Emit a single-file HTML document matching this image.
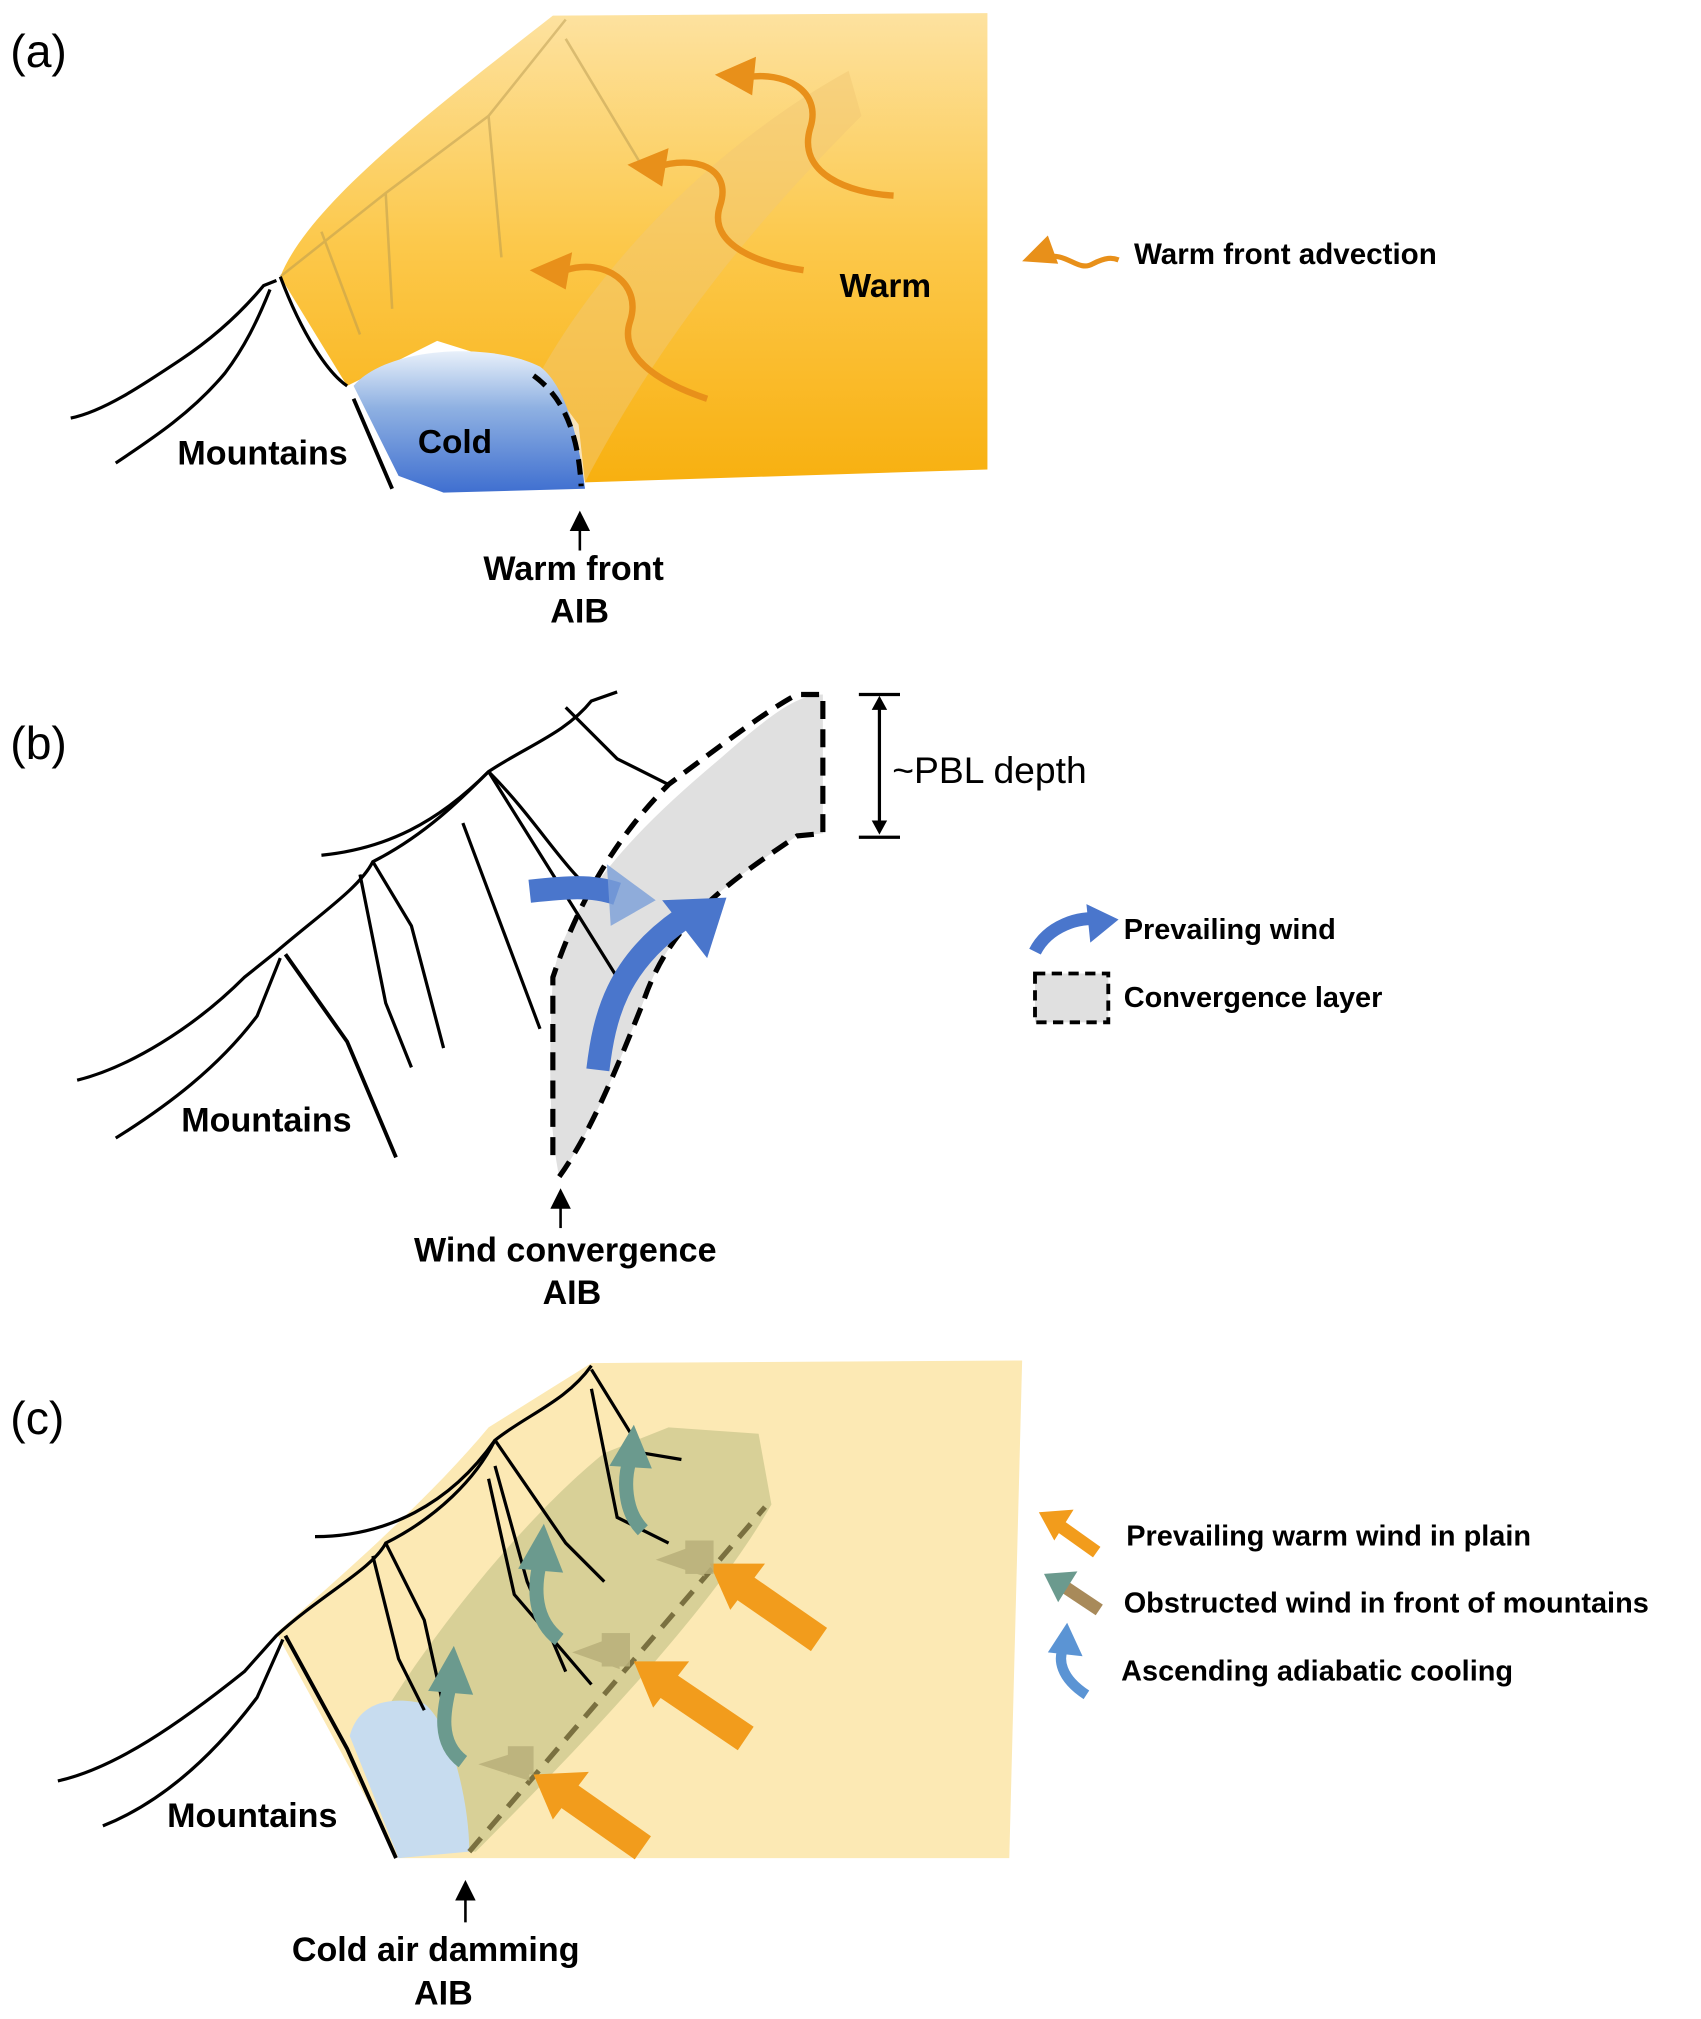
<!DOCTYPE html>
<html><head><meta charset="utf-8"><style>
html,body{margin:0;padding:0;background:#fff}
svg{display:block}
text{font-family:"Liberation Sans",Arial,sans-serif;font-weight:bold;fill:#000}
</style></head><body>
<svg width="1701" height="2019" viewBox="0 0 1323 1570" xmlns="http://www.w3.org/2000/svg">
<defs>
<linearGradient id="og" x1="0" y1="0" x2="0" y2="1"><stop offset="0" stop-color="#fde2a0"/><stop offset="0.5" stop-color="#fcc84a"/><stop offset="1" stop-color="#f8b010"/></linearGradient>
<linearGradient id="bg" x1="0" y1="0" x2="0" y2="1"><stop offset="0" stop-color="#e8f0fa"/><stop offset="0.4" stop-color="#8fb1e2"/><stop offset="1" stop-color="#3f6fd0"/></linearGradient>
<marker id="ah" markerWidth="8" markerHeight="8" refX="4" refY="4" orient="auto"><path d="M0,0 L8,4 L0,8 z" fill="#000"/></marker>
</defs>
<!-- (a) -->
<text x="8" y="52" font-size="36" style="font-weight:normal">(a)</text>
<path d="M218,215 C240,160 330,90 430,12 L768,10 L768,365 L455,375 L450,330 L420,290 L340,265 L270,300 Z" fill="url(#og)"/>
<path d="M420,290 C470,200 560,110 660,55 L670,90 C600,160 520,250 455,375 Z" fill="#f2c873" opacity="0.5"/>
<g stroke="#b89a50" stroke-width="2" fill="none" opacity="0.5">
<path d="M218,215 L300,150 L380,90 L440,15"/><path d="M300,150 L305,240"/><path d="M380,90 L390,200"/><path d="M440,30 L500,130"/><path d="M250,180 L280,260"/>
</g>
<path d="M275,300 C300,270 380,265 420,285 C440,300 450,340 455,380 L345,383 L310,370 Z" fill="url(#bg)"/>
<path d="M415,292 C440,310 450,340 452,378" stroke="#000" stroke-width="4" stroke-dasharray="12,7" fill="none"/>
<g stroke="#000" stroke-width="2.5" fill="none">
<path d="M55,325 C80,320 110,300 140,280 C170,260 190,240 205,222 L215,218"/>
<path d="M90,360 C120,340 150,320 175,290 C190,270 200,250 210,225"/>
<path d="M218,215 C235,260 255,290 270,300"/>
<path d="M275,310 L305,380" stroke-width="3"/>
</g>
<g stroke="#e8901a" stroke-width="5" fill="none">
<path d="M550,310 C520,300 480,280 490,250 C500,220 470,200 440,210"/>
<path d="M625,210 C590,205 550,190 560,160 C570,130 540,120 510,130"/>
<path d="M695,152 C660,150 620,135 630,100 C640,70 610,55 580,60"/>
</g>
<g fill="#e8901a">
<path d="M412,210 L445,196 L440,225 Z"/><path d="M488,128 L520,115 L515,145 Z"/><path d="M556,58 L588,44 L585,74 Z"/>
<path d="M795,203 L815,183 L823,205 Z"/>
</g>
<path d="M812,200 C830,195 838,212 850,205 C860,200 865,200 870,202" stroke="#e8901a" stroke-width="4" fill="none"/>
<text x="653" y="231" font-size="26">Warm</text>
<text x="325" y="352" font-size="26">Cold</text>
<text x="138" y="361" font-size="26.5">Mountains</text>
<text x="882" y="205" font-size="23">Warm front advection</text>
<line x1="451" y1="428" x2="451" y2="405" stroke="#000" stroke-width="2" marker-end="url(#ah)"/>
<text x="376" y="451" font-size="26.5">Warm front</text>
<text x="428" y="484" font-size="26.5">AIB</text>
<!-- (b) -->
<text x="8" y="590" font-size="36" style="font-weight:normal">(b)</text>
<path d="M435,915 C425,870 428,800 430,760 C440,700 500,640 560,590 C600,555 620,540 640,540 L640,648 L620,650 C560,690 520,720 500,780 C480,830 460,880 435,915 Z" fill="#e0e0e0"/>
<path d="M435,915 C460,880 480,830 500,780 C520,720 560,690 620,650 L640,648 L640,540 L620,540 C600,550 560,580 520,610 C480,650 450,700 430,760 L430,900" stroke="#000" stroke-width="4" stroke-dasharray="14,8" fill="none"/>
<g stroke="#000" stroke-width="2.5" fill="none">
<path d="M60,840 C100,830 150,800 190,760 L215,740 C250,710 280,690 290,670 C330,650 360,620 380,600 C410,580 440,570 460,545 L480,538"/>
<path d="M90,885 C130,860 170,830 200,790 L218,745"/>
<path d="M222,742 L270,810 L308,900" stroke-width="3"/>
<path d="M250,665 C300,660 340,640 380,600"/><path d="M380,600 C420,640 440,680 470,700"/>
<path d="M380,600 L430,680 L480,760"/><path d="M290,670 L320,720 L345,815"/>
<path d="M280,680 L300,780 L320,830"/><path d="M440,550 L480,590 L520,610"/>
<path d="M360,640 L390,720 L420,800"/>
</g>
<path d="M412,693 C440,690 460,688 480,695" stroke="#4a76cc" stroke-width="18" fill="none"/>
<path d="M472,672 L510,700 L475,720 Z" fill="#7a9fd8" opacity="0.8"/>
<path d="M465,832 C470,790 480,750 530,715" stroke="#4a76cc" stroke-width="18" fill="none"/>
<path d="M515,700 L565,698 L550,745 Z" fill="#4a76cc"/>
<g stroke="#000" stroke-width="2.5"><line x1="668" y1="540" x2="700" y2="540"/><line x1="668" y1="651" x2="700" y2="651"/><line x1="684" y1="548" x2="684" y2="643"/></g>
<path d="M678,552 L684,541 L690,552 Z M678,638 L684,649 L690,638 Z"/>
<text x="694" y="609" font-size="29" style="font-weight:normal">~PBL depth</text>
<path d="M805,740 C815,720 840,712 855,715" stroke="#4a76cc" stroke-width="10" fill="none"/>
<path d="M845,703 L870,715 L848,733 Z" fill="#4a76cc"/>
<text x="874" y="730" font-size="22.5">Prevailing wind</text>
<rect x="805" y="757" width="57" height="38" fill="#e0e0e0" stroke="#000" stroke-width="3" stroke-dasharray="8,5"/>
<text x="874" y="783" font-size="22.5">Convergence layer</text>
<text x="141" y="880" font-size="26.5">Mountains</text>
<line x1="436" y1="955" x2="436" y2="932" stroke="#000" stroke-width="2" marker-end="url(#ah)"/>
<text x="322" y="981" font-size="26.5">Wind convergence</text>
<text x="422" y="1014" font-size="26.5">AIB</text>
<!-- (c) -->
<text x="8" y="1115" font-size="36" style="font-weight:normal">(c)</text>
<path d="M215,1270 C260,1230 330,1170 380,1110 L460,1060 L795,1058 L785,1445 L310,1445 Z" fill="#fce9b4"/>
<path d="M300,1330 C350,1250 420,1170 470,1130 L520,1110 L590,1115 L600,1170 C560,1240 480,1330 370,1440 L330,1440 Z" fill="#c9c48a" opacity="0.7"/>
<path d="M272,1350 C280,1320 310,1320 330,1325 C350,1340 365,1400 365,1440 L310,1445 Z" fill="#c7dcef"/>
<path d="M365,1440 L595,1172" stroke="#7a7040" stroke-width="4" stroke-dasharray="14,9"/>
<g stroke="#000" stroke-width="2.5" fill="none">
<path d="M45,1385 C90,1375 140,1340 190,1300 L215,1272 C250,1240 290,1220 300,1200 C340,1180 370,1150 385,1120 C410,1100 440,1090 460,1062"/>
<path d="M80,1420 C130,1400 170,1360 200,1320 L220,1275"/>
<path d="M222,1272 L270,1360 L308,1445" stroke-width="3"/>
<path d="M245,1195 C300,1195 350,1170 385,1120"/><path d="M385,1120 L440,1200 L470,1230"/>
<path d="M300,1200 L330,1260 L350,1350"/><path d="M290,1210 L310,1290 L330,1330"/>
<path d="M385,1140 L410,1230 L440,1300"/><path d="M460,1065 L500,1130 L530,1135"/>
<path d="M460,1080 L480,1180 L520,1200"/><path d="M380,1150 L400,1240 L460,1310"/>
</g>
<g stroke="#f29c1c" stroke-width="22">
<line x1="500" y1="1437" x2="440" y2="1395"/><line x1="580" y1="1352" x2="515" y2="1308"/><line x1="637" y1="1275" x2="575" y2="1232"/>
</g>
<g fill="#f29c1c">
<path d="M415,1380 L458,1378 L430,1415 Z"/><path d="M493,1292 L536,1292 L508,1328 Z"/><path d="M552,1216 L595,1216 L568,1252 Z"/>
</g>
<g fill="#b9b07a" opacity="0.85">
<path d="M372,1372 L410,1360 L412,1385 Z"/><rect x="395" y="1358" width="20" height="22"/>
<path d="M445,1285 L480,1272 L482,1298 Z"/><rect x="468" y="1270" width="22" height="26"/>
<path d="M510,1213 L545,1200 L548,1226 Z"/><rect x="533" y="1198" width="22" height="26"/>
</g>
<g stroke="#6b9a8e" stroke-width="11" fill="none">
<path d="M360,1370 C340,1355 345,1330 350,1310"/><path d="M435,1275 C415,1260 415,1235 420,1215"/><path d="M500,1190 C485,1175 485,1150 490,1135"/>
</g>
<g fill="#6b9a8e">
<path d="M333,1315 L353,1280 L368,1318 Z"/><path d="M403,1220 L423,1185 L438,1223 Z"/><path d="M474,1140 L493,1108 L507,1142 Z"/>
</g>
<path d="M853,1207 L822,1185" stroke="#f29c1c" stroke-width="10"/>
<path d="M808,1176 L835,1174 L820,1198 Z" fill="#f29c1c"/>
<path d="M855,1252 L825,1232" stroke="#a88a5a" stroke-width="10"/>
<path d="M812,1224 L838,1222 L823,1246 Z" fill="#6b9a8e"/>
<path d="M845,1318 C825,1305 822,1290 828,1280" stroke="#5b94d4" stroke-width="8" fill="none"/>
<path d="M815,1285 L830,1262 L842,1288 Z" fill="#5b94d4"/>
<text x="876" y="1202" font-size="22.5">Prevailing warm wind in plain</text>
<text x="874" y="1254" font-size="22.5">Obstructed wind in front of mountains</text>
<text x="872" y="1307" font-size="22.5">Ascending adiabatic cooling</text>
<text x="130" y="1421" font-size="26.5">Mountains</text>
<line x1="362" y1="1495" x2="362" y2="1470" stroke="#000" stroke-width="2" marker-end="url(#ah)"/>
<text x="227" y="1525" font-size="26.5">Cold air damming</text>
<text x="322" y="1559" font-size="26.5">AIB</text>
</svg>
</body></html>
